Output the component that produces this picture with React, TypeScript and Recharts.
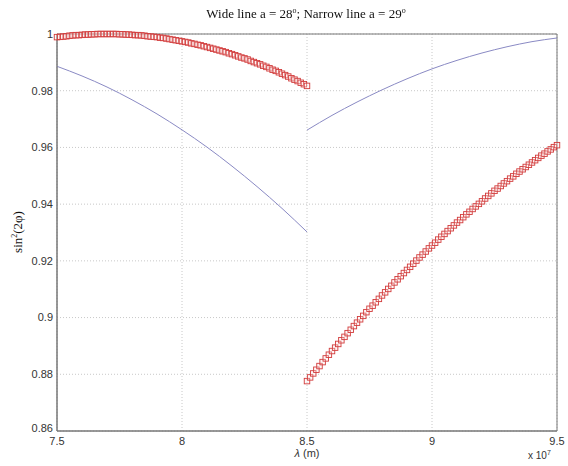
import React from "react";
import { ComposedChart, Line, XAxis, YAxis, CartesianGrid, ReferenceArea } from "recharts";

// Wide line (a = 28°) – red squares, two branches
const wideX1 = [7.5,7.5125,7.525,7.5375,7.55,7.5625,7.575,7.5875,7.6,7.6125,7.625,7.6375,7.65,7.6625,7.675,7.6875,7.7,7.7125,7.725,7.7375,7.75,7.7625,7.775,7.7875,7.8,7.8125,7.825,7.8375,7.85,7.8625,7.875,7.8875,7.9,7.9125,7.925,7.9375,7.95,7.9625,7.975,7.9875,8.0,8.0125,8.025,8.0375,8.05,8.0625,8.075,8.0875,8.1,8.1125,8.125,8.1375,8.15,8.1625,8.175,8.1875,8.2,8.2125,8.225,8.2375,8.25,8.2625,8.275,8.2875,8.3,8.3125,8.325,8.3375,8.35,8.3625,8.375,8.3875,8.4,8.4125,8.425,8.4375,8.45,8.4625,8.475,8.4875,8.5];
const wideY1 = [0.9989,0.999,0.9991,0.9992,0.9994,0.9995,0.9996,0.9996,0.9997,0.9998,0.9998,0.9999,0.9999,1.0,1.0,1.0,1.0,1.0,1.0,1.0,0.9999,0.9999,0.9998,0.9998,0.9997,0.9996,0.9996,0.9995,0.9994,0.9992,0.9991,0.999,0.9989,0.9987,0.9986,0.9984,0.9982,0.998,0.9978,0.9976,0.9974,0.9972,0.997,0.9967,0.9965,0.9962,0.996,0.9957,0.9954,0.9951,0.9948,0.9945,0.9942,0.9939,0.9936,0.9932,0.9929,0.9925,0.9921,0.9917,0.9914,0.991,0.9905,0.9901,0.9897,0.9893,0.9888,0.9884,0.9879,0.9874,0.987,0.9865,0.986,0.9855,0.985,0.9844,0.9839,0.9834,0.9828,0.9823,0.9817];
const wideX2 = [8.5,8.5125,8.525,8.5375,8.55,8.5625,8.575,8.5875,8.6,8.6125,8.625,8.6375,8.65,8.6625,8.675,8.6875,8.7,8.7125,8.725,8.7375,8.75,8.7625,8.775,8.7875,8.8,8.8125,8.825,8.8375,8.85,8.8625,8.875,8.8875,8.9,8.9125,8.925,8.9375,8.95,8.9625,8.975,8.9875,9.0,9.0125,9.025,9.0375,9.05,9.0625,9.075,9.0875,9.1,9.1125,9.125,9.1375,9.15,9.1625,9.175,9.1875,9.2,9.2125,9.225,9.2375,9.25,9.2625,9.275,9.2875,9.3,9.3125,9.325,9.3375,9.35,9.3625,9.375,9.3875,9.4,9.4125,9.425,9.4375,9.45,9.4625,9.475,9.4875,9.5];
const wideY2 = [0.8776,0.8789,0.8803,0.8816,0.8829,0.8843,0.8856,0.8869,0.8882,0.8894,0.8907,0.892,0.8932,0.8945,0.8957,0.897,0.8982,0.8994,0.9006,0.9019,0.9031,0.9042,0.9054,0.9066,0.9078,0.9089,0.9101,0.9112,0.9124,0.9135,0.9146,0.9157,0.9168,0.9179,0.919,0.9201,0.9212,0.9222,0.9233,0.9244,0.9254,0.9264,0.9275,0.9285,0.9295,0.9305,0.9315,0.9325,0.9335,0.9344,0.9354,0.9364,0.9373,0.9383,0.9392,0.9401,0.941,0.942,0.9429,0.9438,0.9447,0.9455,0.9464,0.9473,0.9481,0.949,0.9498,0.9507,0.9515,0.9523,0.9531,0.9539,0.9547,0.9555,0.9563,0.9571,0.9578,0.9586,0.9593,0.9601,0.9608];

// Narrow line (a = 29°) – thin blue line, two branches
const narrowX1 = [7.5,7.6,7.7,7.8,7.9,8.0,8.1,8.2,8.3,8.4,8.5];
const narrowY1 = [0.9886,0.9852,0.9813,0.9768,0.9718,0.9662,0.9601,0.9534,0.9462,0.9385,0.9302];
const narrowX2 = [8.5,8.6,8.7,8.8,8.9,9.0,9.1,9.2,9.3,9.4,9.5];
const narrowY2 = [0.9661,0.9713,0.976,0.9803,0.9842,0.9877,0.9907,0.9933,0.9955,0.9973,0.9986];

const xTicks = [7.5, 8, 8.5, 9, 9.5];
const yTicks = [0.86, 0.88, 0.9, 0.92, 0.94, 0.96, 0.98, 1];

const zip = (xs: number[], ys: number[]) => xs.map((x, i) => ({ x, y: ys[i] }));

const wide1 = zip(wideX1, wideY1);
const wide2 = zip(wideX2, wideY2);
const narrow1 = zip(narrowX1, narrowY1);
const narrow2 = zip(narrowX2, narrowY2);

const RED = "#d23c3c";
const BLUE = "#8a8ac4";

const SquareDot = (props: any) => {
  const { cx, cy, index } = props;
  if (cx == null || cy == null) return <g key={index} />;
  const s = 5.5;
  return (
    <rect
      key={index}
      x={cx - s / 2}
      y={cy - s / 2}
      width={s}
      height={s}
      fill="#fbe9e9"
      fillOpacity={0.3}
      stroke={RED}
      strokeWidth={0.9}
    />
  );
};

const tickStyle = { fontFamily: "'Liberation Sans', Arial, sans-serif", fontSize: 11, fill: "#333" };

const YTick = (props: any) => {
  const { x, y, payload } = props;
  const v = Number(Number(payload.value).toFixed(2));
  const dy = v === 0.86 ? -3 : 0;
  return (
    <text x={x} y={y + dy} dy="0.355em" textAnchor="end" {...tickStyle}>
      {String(v)}
    </text>
  );
};

const XTick = (props: any) => {
  const { x, y, payload } = props;
  return (
    <text x={x} y={y} dy="0.71em" textAnchor="middle" {...tickStyle}>
      {String(payload.value)}
    </text>
  );
};

export default function App() {
  return (
    <div style={{ position: "fixed", left: 0, top: 0, width: 568, height: 466, background: "#fff" }}>
      <ComposedChart
        width={568}
        height={466}
        margin={{ top: 34, right: 11, bottom: 15, left: 12 }}
        style={{ overflow: "visible" }}
      >
        <CartesianGrid stroke="#c8c8c8" strokeDasharray="1 2" />
        <XAxis
          dataKey="x"
          type="number"
          domain={[7.5, 9.5]}
          ticks={xTicks}
          interval={0}
          height={20}
          tickLine={false}
          tickSize={0}
          tickMargin={6}
          axisLine={{ stroke: "#777" }}
          tick={<XTick />}
        />
        <YAxis
          type="number"
          domain={[0.86, 1]}
          ticks={yTicks}
          interval={0}
          width={45}
          tickLine={false}
          tickSize={0}
          tickMargin={4}
          axisLine={{ stroke: "#777" }}
          tick={<YTick />}
        />
        <ReferenceArea x1={7.5} x2={9.5} y1={0.86} y2={1} fill="none" stroke="#777" strokeWidth={1} />
        <Line data={narrow1} dataKey="y" type="monotone" stroke={BLUE} strokeWidth={1} dot={false} isAnimationActive={false} />
        <Line data={narrow2} dataKey="y" type="monotone" stroke={BLUE} strokeWidth={1} dot={false} isAnimationActive={false} />
        <Line data={wide1} dataKey="y" type="monotone" stroke="none" dot={SquareDot} activeDot={false} isAnimationActive={false} />
        <Line data={wide2} dataKey="y" type="monotone" stroke="none" dot={SquareDot} activeDot={false} isAnimationActive={false} />
      </ComposedChart>
      <div
        style={{
          position: "absolute",
          left: 0,
          width: 612,
          top: 6,
          textAlign: "center",
          fontFamily: "'Liberation Serif', 'Times New Roman', serif",
          fontSize: 13,
          color: "#111",
          whiteSpace: "nowrap",
          pointerEvents: "none",
        }}
      >
        Wide line a = 28<sup style={{ fontSize: 8 }}>o</sup>; Narrow line a = 29<sup style={{ fontSize: 8 }}>o</sup>
      </div>
      <div
        style={{
          position: "absolute",
          left: 18,
          top: 232,
          transform: "translate(-50%, -50%) rotate(-90deg)",
          fontFamily: "'Liberation Serif', 'Times New Roman', serif",
          fontSize: 13,
          color: "#111",
          whiteSpace: "nowrap",
        }}
      >
        sin<sup style={{ fontSize: 8 }}>2</sup>(2φ)
      </div>
      <div
        style={{
          position: "absolute",
          left: 307,
          top: 453,
          transform: "translate(-50%, -50%)",
          fontFamily: "'Liberation Sans', Arial, sans-serif",
          fontSize: 11,
          lineHeight: 1,
          color: "#333",
          whiteSpace: "nowrap",
        }}
      >
        <i>λ</i> (m)
      </div>
      <div
        style={{
          position: "absolute",
          left: 528,
          top: 451,
          fontFamily: "'Liberation Sans', Arial, sans-serif",
          fontSize: 10,
          lineHeight: 1,
          color: "#333",
          whiteSpace: "nowrap",
        }}
      >
        x 10<sup style={{ fontSize: 7, lineHeight: 0 }}>7</sup>
      </div>
    </div>
  );
}
